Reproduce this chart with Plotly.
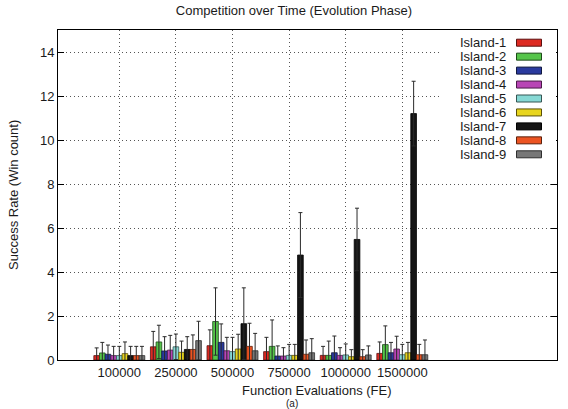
import plotly.graph_objects as go

# ---- data ----
categories = ["100000", "250000", "500000", "750000", "1000000", "1500000"]
islands = ["Island-1", "Island-2", "Island-3", "Island-4", "Island-5",
           "Island-6", "Island-7", "Island-8", "Island-9"]

island1_mean = [0.20, 0.60, 0.65, 0.38, 0.21, 0.30]
island2_mean = [0.32, 0.82, 1.75, 0.62, 0.21, 0.70]
island3_mean = [0.26, 0.41, 0.80, 0.18, 0.33, 0.33]
island4_mean = [0.20, 0.45, 0.42, 0.18, 0.21, 0.50]
island5_mean = [0.20, 0.60, 0.38, 0.21, 0.23, 0.24]
island6_mean = [0.29, 0.35, 0.50, 0.21, 0.15, 0.33]
island7_mean = [0.20, 0.48, 1.65, 4.77, 5.48, 11.20]
island8_mean = [0.20, 0.48, 0.62, 0.26, 0.15, 0.24]
island9_mean = [0.20, 0.88, 0.42, 0.33, 0.23, 0.24]

island1_std = [0.35, 0.70, 0.72, 0.65, 0.41, 0.52]
island2_std = [0.48, 0.76, 1.53, 1.20, 0.65, 0.85]
island3_std = [0.42, 0.65, 0.84, 0.46, 0.76, 0.47]
island4_std = [0.42, 0.67, 0.61, 0.38, 0.35, 0.58]
island5_std = [0.42, 0.58, 0.65, 0.50, 0.50, 0.47]
island6_std = [0.53, 0.51, 0.67, 0.50, 0.32, 0.47]
island7_std = [0.42, 0.58, 1.63, 1.93, 1.42, 1.47]
island8_std = [0.42, 0.66, 1.05, 0.65, 0.32, 0.47]
island9_std = [0.42, 0.88, 0.79, 0.64, 0.41, 0.67]

means = [island1_mean, island2_mean, island3_mean, island4_mean, island5_mean,
         island6_mean, island7_mean, island8_mean, island9_mean]
stds = [island1_std, island2_std, island3_std, island4_std, island5_std,
        island6_std, island7_std, island8_std, island9_std]

# ---- style ----
colors = ["#dd2a22", "#55c44a", "#2a3a9e", "#b845b5", "#86d8d4",
          "#e8d51e", "#151515", "#ec5422", "#777777"]
edges = ["#5a1010", "#1d4a18", "#10183f", "#4a1a48", "#355553",
         "#5a5008", "#000000", "#5a200c", "#2e2e2e"]
FONT = "Liberation Sans, Arial, Helvetica, sans-serif"
TXT = "#1a1a1a"
W, H = 568, 409
L, R, T, B = 58, 557, 30, 360


def px(x):
    return (x - L) / (R - L)


def py(y):
    return (B - y) / (B - T)


fig = go.Figure()
for name, m, s, c, e in zip(islands, means, stds, colors, edges):
    fig.add_trace(go.Bar(
        x=categories, y=m, name=name,
        marker=dict(color=c, line=dict(color=e, width=0.8)),
        error_y=dict(type="data", array=s, visible=True,
                     color="#2a2a2a", thickness=1, width=2),
        showlegend=False,
    ))

shapes = []
annotations = []

# key background (covers grid like gnuplot's opaque key)
shapes.append(dict(type="rect", xref="paper", yref="paper", layer="above",
                   x0=px(440), x1=px(556), y0=py(31), y1=py(163),
                   fillcolor="white", line=dict(width=0)))
for i, (name, c, e) in enumerate(zip(islands, colors, edges)):
    yc = 42.7 + 13.95 * i
    annotations.append(dict(xref="paper", yref="paper", x=px(508), y=py(yc),
                            text=name, showarrow=False, xanchor="right",
                            yanchor="middle",
                            font=dict(family=FONT, size=13, color=TXT)))
    shapes.append(dict(type="rect", xref="paper", yref="paper", layer="above",
                       x0=px(516.5), x1=px(541.5), y0=py(yc + 3.5),
                       y1=py(yc - 3.5), fillcolor=c,
                       line=dict(color=e, width=1)))

annotations.append(dict(xref="paper", yref="paper", x=px(317), y=py(390),
                        text="Function Evaluations (FE)", showarrow=False,
                        xanchor="center", yanchor="middle",
                        font=dict(family=FONT, size=13, color=TXT)))
annotations.append(dict(xref="paper", yref="paper", x=px(13), y=py(195),
                        text="Success Rate (Win count)", showarrow=False,
                        textangle=-90, xanchor="center", yanchor="middle",
                        font=dict(family=FONT, size=13, color=TXT)))
annotations.append(dict(xref="paper", yref="paper", x=px(292), y=py(403),
                        text="(a)", showarrow=False,
                        xanchor="center", yanchor="middle",
                        font=dict(family=FONT, size=10, color=TXT)))

GRID = dict(showgrid=True, gridcolor="#555", griddash="1px,3px", gridwidth=1)

fig.update_layout(
    width=W, height=H,
    margin=dict(l=L, r=W - R, t=T, b=H - B, pad=0),
    paper_bgcolor="white", plot_bgcolor="white",
    barmode="group", bargap=0.1, bargroupgap=0.0,
    font=dict(family=FONT, size=13, color=TXT),
    title=dict(text="Competition over Time (Evolution Phase)",
               x=294 / W, xref="container", xanchor="center",
               y=1 - 10 / H, yref="container", yanchor="middle",
               font=dict(family=FONT, size=13, color=TXT)),
    shapes=shapes, annotations=annotations,
    xaxis=dict(type="category", range=[-1.083, 7.733],
               showline=True, linecolor="black", linewidth=1, mirror=True,
               ticks="", tickfont=dict(family=FONT, size=13, color=TXT),
               zeroline=False, **GRID),
    yaxis=dict(range=[0, 15], tickvals=[0, 2, 4, 6, 8, 10, 12, 14],
               showline=True, linecolor="black", linewidth=1, mirror="ticks",
               ticks="inside", ticklen=6, tickcolor="black",
               tickfont=dict(family=FONT, size=13, color=TXT),
               zeroline=False, **GRID),
)

fig.write_html("out.html")
